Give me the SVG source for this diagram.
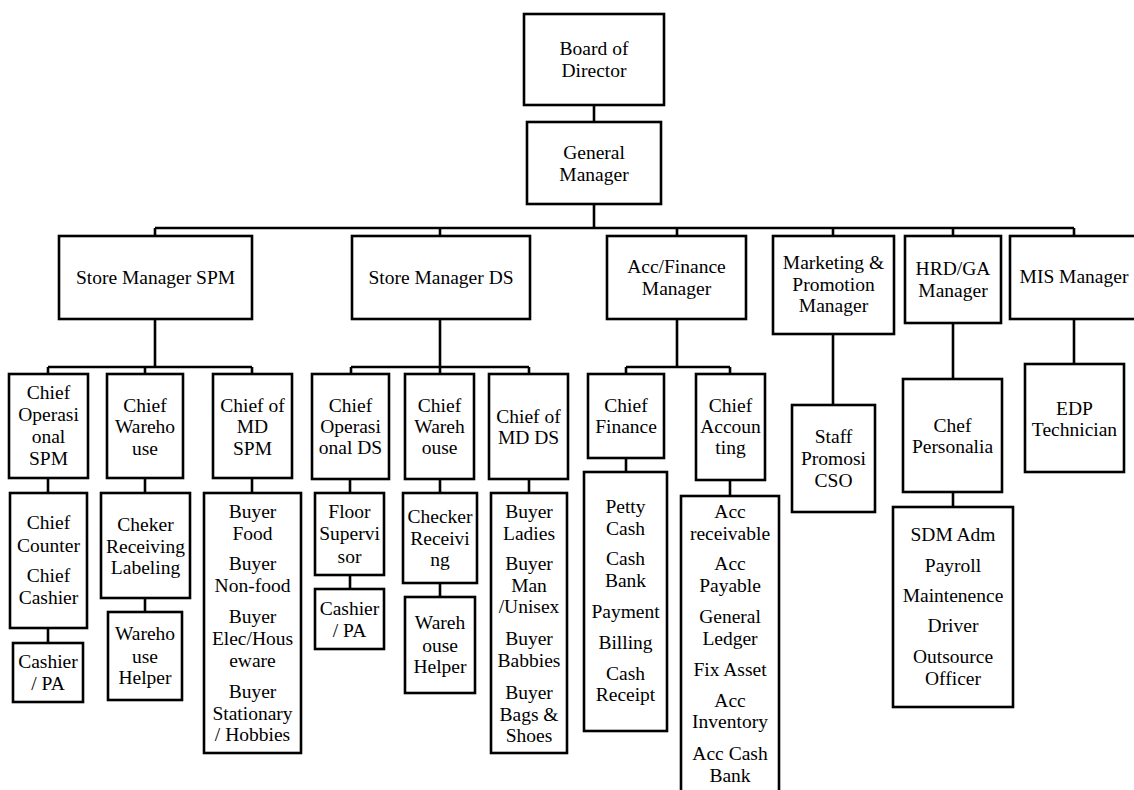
<svg xmlns="http://www.w3.org/2000/svg" width="1134" height="790" viewBox="0 0 1134 790">
<style>
.b{fill:#fff;stroke:#000;stroke-width:2.6}
.c{fill:none;stroke:#000;stroke-width:2.6}
.t text{font-family:"Liberation Serif","Times New Roman",Times,"Nimbus Roman",FreeSerif,"Noto Serif","DejaVu Serif",serif;font-size:19.5px;text-anchor:middle;fill:#000}
</style>
<rect width="1134" height="790" fill="#fff"/>
<g id="connectors" class="c">
<path d="M594 105V122M594 204V228M155 228H1074M155 228V236M440 228V236M677 228V236M833 228V236M953 228V236M1074 228V236"/>
<path d="M155 319V367M48 367H252M48 367V374M145 367V374M252 367V374M48 478V493M48 628V643M145 478V493M145 598V612M252 478V493"/>
<path d="M440 319V367M351 367H529M351 367V374M440 367V374M529 367V374M350 479V493M350 575V589M440 479V493M440 583V597M529 479V493"/>
<path d="M677 319V367M626 367H730M626 367V374M730 367V374M626 458V472M730 480V496"/>
<path d="M833 334V405M953 323V379M953 492V507M1074 319V364"/>
</g>
<g class="t">
<g id="board"><rect class="b" x="524" y="14" width="140" height="91"/><text x="594" y="55">Board of</text><text x="594" y="77">Director</text></g>
<g id="gm"><rect class="b" x="527" y="122" width="134" height="82"/><text x="594" y="159">General</text><text x="594" y="181">Manager</text></g>
<g id="sm-spm"><rect class="b" x="59" y="236" width="193" height="83"/><text x="155.5" y="284">Store Manager SPM</text></g>
<g id="sm-ds"><rect class="b" x="352" y="236" width="178" height="83"/><text x="441" y="284">Store Manager DS</text></g>
<g id="acc-fin"><rect class="b" x="607" y="236" width="139" height="83"/><text x="676.5" y="273">Acc/Finance</text><text x="676.5" y="295">Manager</text></g>
<g id="marketing"><rect class="b" x="773" y="236" width="121" height="98"/><text x="833.5" y="269">Marketing &amp;</text><text x="833.5" y="291">Promotion</text><text x="833.5" y="312">Manager</text></g>
<g id="hrd"><rect class="b" x="905" y="236" width="96" height="87"/><text x="953" y="275">HRD/GA</text><text x="953" y="297">Manager</text></g>
<g id="mis"><rect class="b" x="1010" y="236" width="130" height="83"/><text x="1074" y="283">MIS Manager</text></g>

<g id="chief-op-spm"><rect class="b" x="9" y="374" width="79" height="104"/><text x="48.5" y="399">Chief</text><text x="48.5" y="421">Operasi</text><text x="48.5" y="443">onal</text><text x="48.5" y="465">SPM</text></g>
<g id="chief-wh-spm"><rect class="b" x="107" y="374" width="76" height="104"/><text x="145" y="412">Chief</text><text x="145" y="433">Wareho</text><text x="145" y="455">use</text></g>
<g id="chief-md-spm"><rect class="b" x="213" y="374" width="79" height="104"/><text x="252.5" y="412">Chief of</text><text x="252.5" y="433">MD</text><text x="252.5" y="455">SPM</text></g>
<g id="chief-counter"><rect class="b" x="10" y="493" width="77" height="135"/><text x="48.5" y="529">Chief</text><text x="48.5" y="552">Counter</text><text x="48.5" y="582">Chief</text><text x="48.5" y="604">Cashier</text></g>
<g id="cashier-spm"><rect class="b" x="13" y="643" width="70" height="59"/><text x="48" y="668">Cashier</text><text x="48" y="690">/ PA</text></g>
<g id="cheker"><rect class="b" x="101" y="493" width="89" height="105"/><text x="145.5" y="531">Cheker</text><text x="145.5" y="553">Receiving</text><text x="145.5" y="574">Labeling</text></g>
<g id="wh-helper-spm"><rect class="b" x="108" y="612" width="74" height="88"/><text x="145" y="640">Wareho</text><text x="145" y="663">use</text><text x="145" y="684">Helper</text></g>
<g id="buyers-spm"><rect class="b" x="204" y="493" width="97" height="260"/><text x="252.5" y="518">Buyer</text><text x="252.5" y="540">Food</text><text x="252.5" y="570">Buyer</text><text x="252.5" y="592">Non-food</text><text x="252.5" y="623">Buyer</text><text x="252.5" y="645">Elec/Hous</text><text x="252.5" y="667">eware</text><text x="252.5" y="698">Buyer</text><text x="252.5" y="720">Stationary</text><text x="252.5" y="741">/ Hobbies</text></g>

<g id="chief-op-ds"><rect class="b" x="312" y="374" width="77" height="105"/><text x="350.5" y="412">Chief</text><text x="350.5" y="433">Operasi</text><text x="350.5" y="454">onal DS</text></g>
<g id="chief-wh-ds"><rect class="b" x="405" y="374" width="69" height="105"/><text x="439.5" y="412">Chief</text><text x="439.5" y="433">Wareh</text><text x="439.5" y="454">ouse</text></g>
<g id="chief-md-ds"><rect class="b" x="489" y="374" width="79" height="105"/><text x="528.5" y="423">Chief of</text><text x="528.5" y="444">MD DS</text></g>
<g id="floor-sup"><rect class="b" x="315" y="493" width="69" height="82"/><text x="349.5" y="518">Floor</text><text x="349.5" y="540">Supervi</text><text x="349.5" y="563">sor</text></g>
<g id="cashier-ds"><rect class="b" x="315" y="589" width="69" height="60"/><text x="349.5" y="615">Cashier</text><text x="349.5" y="637">/ PA</text></g>
<g id="checker-ds"><rect class="b" x="403" y="493" width="74" height="90"/><text x="440" y="523">Checker</text><text x="440" y="545">Receivi</text><text x="440" y="566">ng</text></g>
<g id="wh-helper-ds"><rect class="b" x="405" y="597" width="70" height="96"/><text x="440" y="629">Wareh</text><text x="440" y="652">ouse</text><text x="440" y="673">Helper</text></g>
<g id="buyers-ds"><rect class="b" x="491" y="493" width="76" height="260"/><text x="529" y="518">Buyer</text><text x="529" y="540">Ladies</text><text x="529" y="570">Buyer</text><text x="529" y="592">Man</text><text x="529" y="613">/Unisex</text><text x="529" y="645">Buyer</text><text x="529" y="667">Babbies</text><text x="529" y="699">Buyer</text><text x="529" y="721">Bags &amp;</text><text x="529" y="742">Shoes</text></g>

<g id="chief-fin"><rect class="b" x="588" y="374" width="76" height="84"/><text x="626" y="412">Chief</text><text x="626" y="433">Finance</text></g>
<g id="chief-acc"><rect class="b" x="696" y="374" width="69" height="106"/><text x="730.5" y="412">Chief</text><text x="730.5" y="433">Accoun</text><text x="730.5" y="454">ting</text></g>
<g id="finance-staff"><rect class="b" x="584" y="472" width="83" height="259"/><text x="625.5" y="513">Petty</text><text x="625.5" y="535">Cash</text><text x="625.5" y="565">Cash</text><text x="625.5" y="587">Bank</text><text x="625.5" y="618">Payment</text><text x="625.5" y="649">Billing</text><text x="625.5" y="680">Cash</text><text x="625.5" y="701">Receipt</text></g>
<g id="acc-staff"><rect class="b" x="681" y="496" width="98" height="300"/><text x="730" y="518">Acc</text><text x="730" y="540">receivable</text><text x="730" y="570">Acc</text><text x="730" y="592">Payable</text><text x="730" y="623">General</text><text x="730" y="645">Ledger</text><text x="730" y="676">Fix Asset</text><text x="730" y="707">Acc</text><text x="730" y="728">Inventory</text><text x="730" y="760">Acc Cash</text><text x="730" y="782">Bank</text></g>

<g id="staff-promosi"><rect class="b" x="792" y="405" width="83" height="107"/><text x="833.5" y="443">Staff</text><text x="833.5" y="465">Promosi</text><text x="833.5" y="487">CSO</text></g>
<g id="chef-personalia"><rect class="b" x="903" y="379" width="99" height="113"/><text x="952.5" y="432">Chef</text><text x="952.5" y="453">Personalia</text></g>
<g id="hr-staff"><rect class="b" x="893" y="507" width="120" height="200"/><text x="953" y="541">SDM Adm</text><text x="953" y="572">Payroll</text><text x="953" y="602">Maintenence</text><text x="953" y="632">Driver</text><text x="953" y="663">Outsource</text><text x="953" y="685">Officer</text></g>
<g id="edp"><rect class="b" x="1025" y="364" width="99" height="108"/><text x="1074.5" y="415">EDP</text><text x="1074.5" y="436">Technician</text></g>
</g>
</svg>
